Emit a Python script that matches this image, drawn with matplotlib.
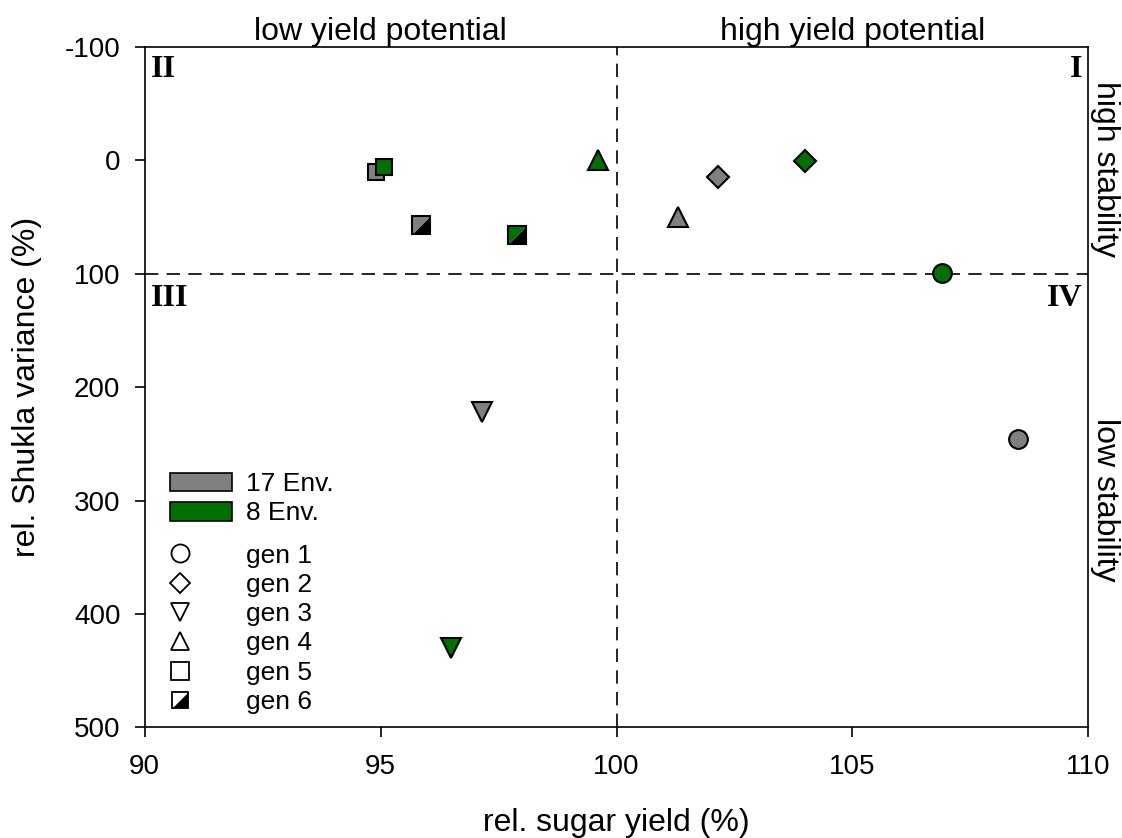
import matplotlib.pyplot as plt
from matplotlib.patches import Patch
from matplotlib.lines import Line2D

plt.rcParams['font.family'] = ['Liberation Sans', 'DejaVu Sans']
plt.rcParams['axes.unicode_minus'] = False

genotypes = ["gen 1", "gen 2", "gen 3", "gen 4", "gen 5", "gen 6"]
yield_17 = [108.5, 102.15, 97.15, 101.3, 94.9, 95.85]
shukla_17 = [246, 15, 222, 50, 10, 57]
yield_8 = [106.9, 104.0, 96.5, 99.6, 95.07, 97.88]
shukla_8 = [99, 1, 430, 0, 6, 66]

env_labels = ["17 Env.", "8 Env."]
env_colors = ["#808080", "#007000"]

# upper-left / lower-right halves of a square for the split marker
tri_ul = [(-1, -1), (-1, 1), (1, 1), (-1, -1)]
tri_lr = [(-1, -1), (1, -1), (1, 1), (-1, -1)]

shapes = ["o", "D", "v", "^", "s", "split"]
sizes = [13.5, 11, 14, 14, 12, 12.5]

fig, ax = plt.subplots(figsize=(11.22, 8.38), dpi=100)
fig.subplots_adjust(left=0.129, right=0.97, top=0.944, bottom=0.132)

ax.axvline(100, color="black", lw=1.2, ls=(0, (8, 5)), zorder=1)
ax.axhline(100, color="black", lw=1.2, ls=(0, (8, 5)), zorder=1)


def draw_point(x, y, shape, size, color):
    if shape == "split":
        ax.plot(x, y, marker=tri_lr, ms=size, mfc="black", mec="black", mew=0, ls="none", zorder=3)
        ax.plot(x, y, marker=tri_ul, ms=size, mfc=color, mec=color, mew=0, ls="none", zorder=3)
        ax.plot(x, y, marker="s", ms=size, mfc="none", mec="black", mew=1.5, ls="none", zorder=4)
    else:
        ax.plot(x, y, marker=shape, ms=size, mfc=color, mec="black", mew=1.5, ls="none", zorder=3)


for ys, ss, col in [(yield_17, shukla_17, env_colors[0]), (yield_8, shukla_8, env_colors[1])]:
    for x, y, shp, sz in zip(ys, ss, shapes, sizes):
        draw_point(x, y, shp, sz, col)

ax.set_xlim(90, 110)
ax.set_ylim(500, -100)
ax.set_xticks([90, 95, 100, 105, 110])
ax.set_yticks([-100, 0, 100, 200, 300, 400, 500])
ax.tick_params(direction="out", length=7.5, width=1.2, labelsize=20)
ax.tick_params(axis="x", pad=12)
ax.tick_params(axis="y", pad=10)
for sp in ax.spines.values():
    sp.set_linewidth(1.2)

ax.set_xlabel("rel. sugar yield (%)", fontsize=23, labelpad=20)
ax.set_ylabel("rel. Shukla variance (%)", fontsize=23, labelpad=16)

# quadrant annotations
ax.text(95, -106, "low yield potential", ha="center", va="baseline", fontsize=23)
ax.text(105, -106, "high yield potential", ha="center", va="baseline", fontsize=23)
ax.text(1.002, 0.82, "high stability", transform=ax.transAxes, rotation=-90,
        ha="left", va="center", fontsize=23)
ax.text(1.002, 0.334, "low stability", transform=ax.transAxes, rotation=-90,
        ha="left", va="center", fontsize=23)

roman = dict(family=["Liberation Serif", "DejaVu Serif"], fontweight="bold", fontsize=23)
ax.text(0.006, 0.988, "II", transform=ax.transAxes, ha="left", va="top", **roman)
ax.text(0.994, 0.988, "I", transform=ax.transAxes, ha="right", va="top", **roman)
ax.text(0.006, 0.652, "III", transform=ax.transAxes, ha="left", va="top", **roman)
ax.text(0.994, 0.652, "IV", transform=ax.transAxes, ha="right", va="top", **roman)

env_handles = [Patch(facecolor=c, edgecolor="black", lw=1.2) for c in env_colors]
leg1 = ax.legend(env_handles, env_labels, loc="upper left", bbox_to_anchor=(0.0265, 0.375),
                 frameon=False, fontsize=19, handlelength=2.35, handleheight=0.73,
                 handletextpad=0.55, labelspacing=0.2, borderaxespad=0, borderpad=0)
ax.add_artist(leg1)

gen_handles = []
for shp in shapes:
    if shp == "split":
        h = (Line2D([], [], marker=tri_lr, ms=11, mfc="black", mew=0, ls="none"),
             Line2D([], [], marker="s", ms=11, mfc="none", mec="black", mew=1.3, ls="none"))
    else:
        h = Line2D([], [], marker=shp, ms=13 if shp != "D" else 10, mfc="white",
                   mec="black", mew=1.3, ls="none")
    gen_handles.append(h)
ax.legend(gen_handles, genotypes, loc="upper left", bbox_to_anchor=(0.023, 0.27),
          frameon=False, fontsize=19, handlelength=1.0, handletextpad=2.0,
          labelspacing=0.2, borderaxespad=0, borderpad=0)

fig.savefig("out.png", dpi=100)
